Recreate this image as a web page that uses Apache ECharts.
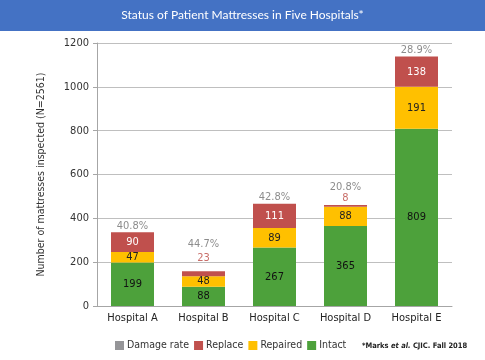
<!DOCTYPE html>
<html><head><meta charset="utf-8">
<script src="https://cdn.jsdelivr.net/npm/echarts@6/dist/echarts.min.js"></script>
<style>html,body{margin:0;padding:0;background:#fff}#c{width:485px;height:360px}</style>
</head><body><div id="c"></div>
<script>
const categories = ['Hospital A','Hospital B','Hospital C','Hospital D','Hospital E'];
const intact = [199, 88, 267, 365, 809];
const repaired = [47, 48, 89, 88, 191];
const replace = [90, 23, 111, 8, 138];
const damageRate = ['40.8%','44.7%','42.8%','20.8%','28.9%'];
const yTicks = [0,200,400,600,800,1000,1200];

const NARROW = "'DejaVu Sans Condensed','Liberation Sans Narrow',sans-serif";
const FS = 11;
const C_GREEN = '#4DA13B', C_YEL = '#FFC000', C_RED = '#C0504D', C_GRAY = '#7A7A7E';

// label placement tweaks for the small "Replace" segments drawn above bars
const aboveLabelStyle = {'Hospital B': {dist: 8, rateDy: -21}, 'Hospital D': {dist: 1, rateDy: -11}};

const totals = categories.map((c,i)=>intact[i]+repaired[i]+replace[i]);
const replaceData = replace.map((v,i) => aboveLabelStyle[categories[i]]
  ? {value:v, label:{position:'top', color:'#C96E69', distance:aboveLabelStyle[categories[i]].dist}} : v);

const chart = echarts.init(document.getElementById('c'), null, {renderer:'canvas'});
chart.setOption({
  animation:false,
  graphic:[
    {type:'rect', shape:{x:0,y:0,width:485,height:31}, style:{fill:'#4472C4'}, z:-1},
    {type:'text', x:242.5, y:15.5, style:{text:'Status of Patient Mattresses in Five Hospitals*', fill:'#fff', font:"12px Lato, 'Noto Sans', sans-serif", align:'center', verticalAlign:'middle'}},
    {type:'text', x:362, y:346, style:{
      text:'{a|*Marks }{b|et al.}{a| CJIC. Fall 2018}', verticalAlign:'middle',
      rich:{a:{fontFamily:NARROW, fontSize:7.5, fontWeight:'bold', fill:'#222'}, b:{fontFamily:NARROW, fontSize:7.5, fontWeight:'bold', fontStyle:'italic', fill:'#222'}}
    }}
  ],
  legend:{
    left:110, top:335, itemWidth:9, itemHeight:9, itemGap:5, icon:'rect',
    textStyle:{fontFamily:NARROW, fontSize:10.5, color:'#333', padding:[0,0,0,-2]},
    data:['Damage rate','Replace','Repaired','Intact']
  },
  grid:{left:97, right:33, top:43, bottom:54},
  xAxis:{
    type:'category', data:categories,
    axisLine:{lineStyle:{color:'#A6A6A6'}}, axisTick:{show:false},
    axisLabel:{interval:0, fontFamily:NARROW, fontSize:FS, color:'#222', margin:7}
  },
  yAxis:{
    type:'value', min:0, max:1200, interval:200,
    name:'Number of mattresses inspected (N=2561)', nameLocation:'middle', nameGap:50,
    nameTextStyle:{fontFamily:NARROW, fontSize:10.5, color:'#333'},
    axisLine:{show:true, lineStyle:{color:'#A6A6A6'}},
    axisTick:{show:true, length:4, lineStyle:{color:'#A6A6A6'}},
    splitLine:{lineStyle:{color:'#BFBFBF'}},
    axisLabel:{fontFamily:NARROW, fontSize:FS, color:'#333', margin:8,
      formatter:v=> yTicks.includes(v) ? String(v) : ''}
  },
  series:[
    {name:'Intact', type:'bar', stack:'s', data:intact, barWidth:43, itemStyle:{color:C_GREEN},
     label:{show:true, position:'inside', color:'#111', fontFamily:NARROW, fontSize:FS}},
    {name:'Repaired', type:'bar', stack:'s', data:repaired, itemStyle:{color:C_YEL},
     label:{show:true, position:'inside', color:'#222', fontFamily:NARROW, fontSize:FS}},
    {name:'Replace', type:'bar', stack:'s', data:replaceData, itemStyle:{color:C_RED},
     label:{show:true, position:'inside', color:'#fff', fontFamily:NARROW, fontSize:FS}},
    {name:'Damage rate', type:'scatter', data:totals, symbolSize:0.01, itemStyle:{color:C_GRAY},
     labelLayout:p => ({dy: (aboveLabelStyle[categories[p.dataIndex]] || {rateDy:0}).rateDy, hideOverlap:false}),
     label:{show:true, position:'top', distance:1, color:'#6F6F6F', fontFamily:NARROW, fontSize:FS,
       formatter:p=>damageRate[p.dataIndex]}}
  ]
});
</script></body></html>
